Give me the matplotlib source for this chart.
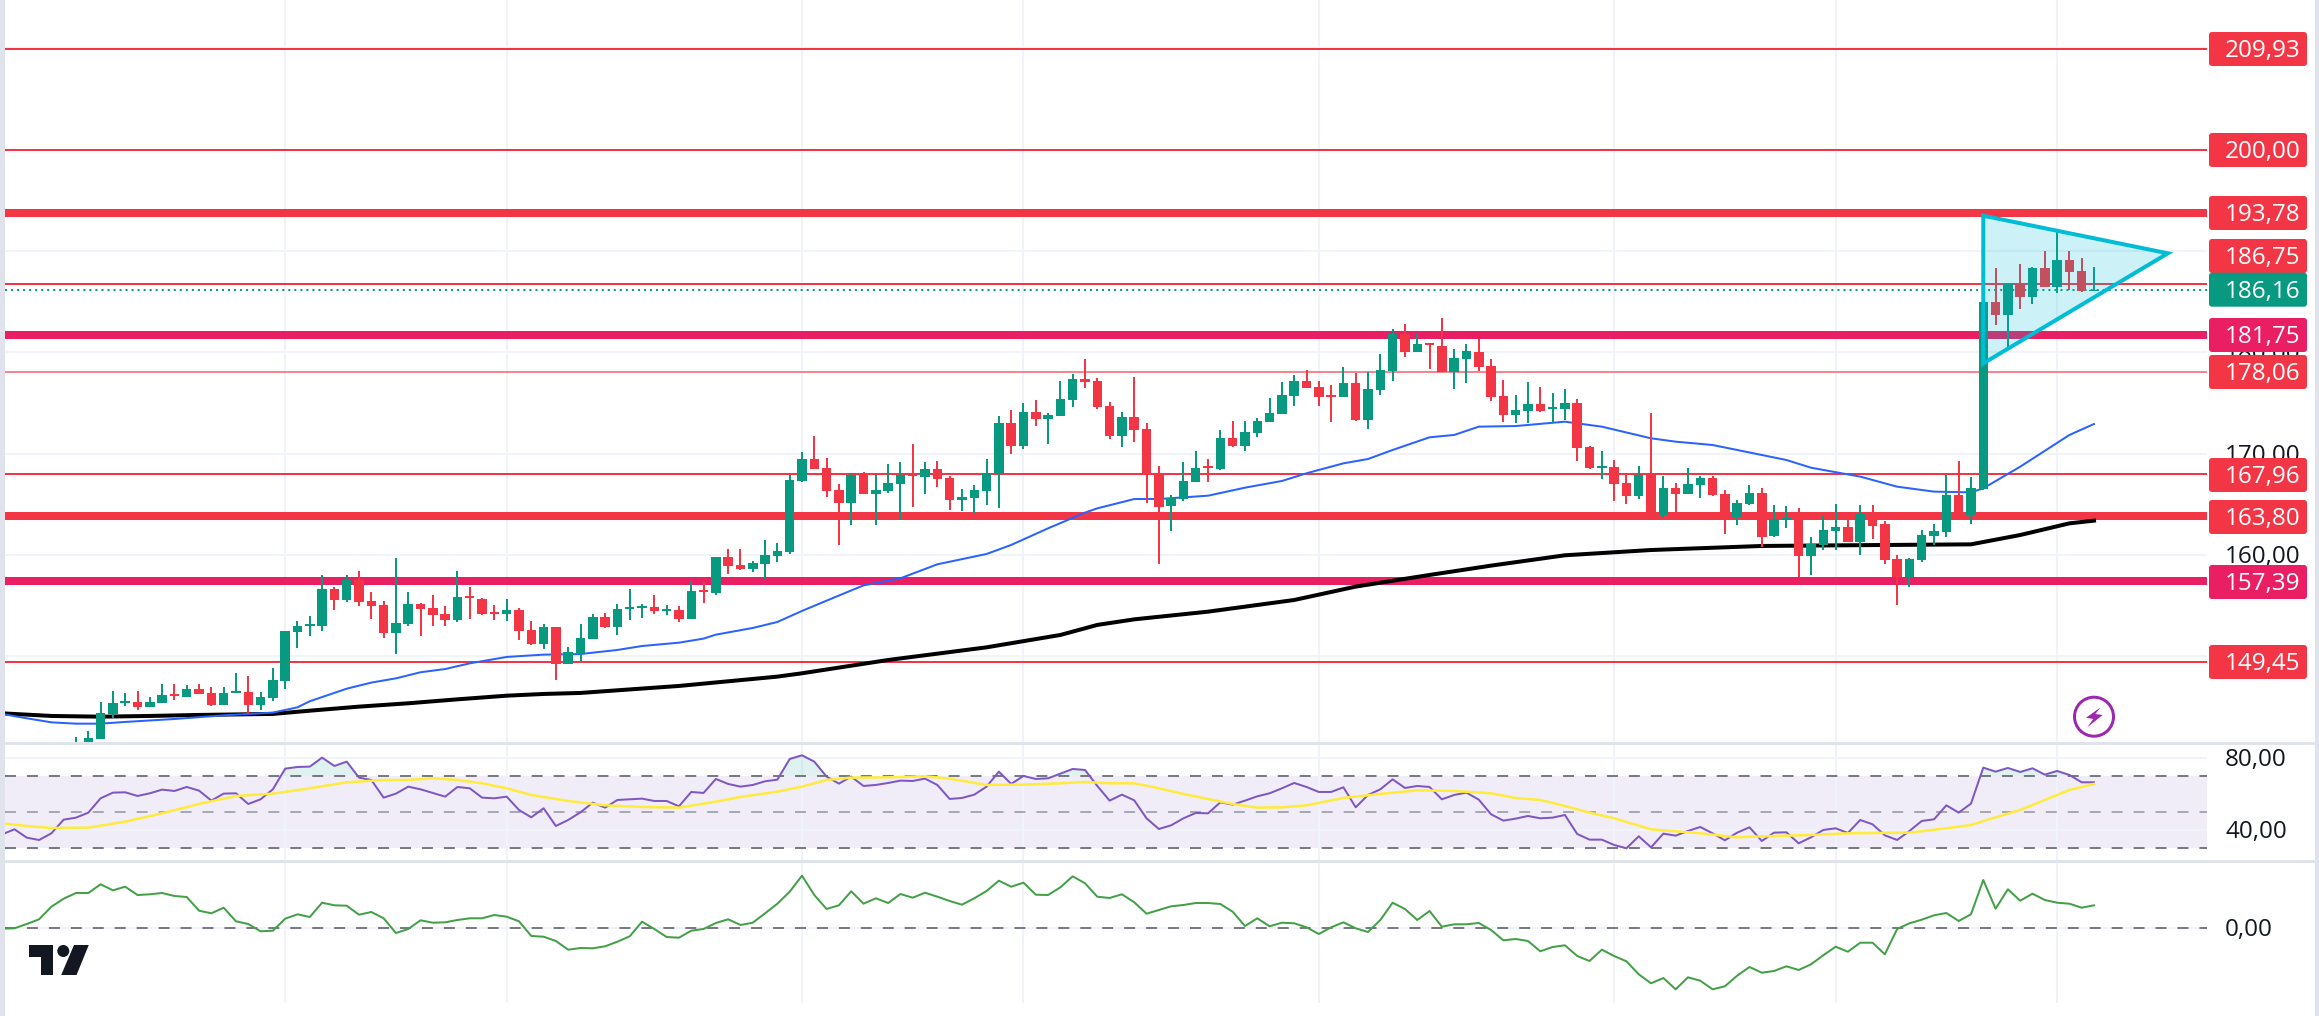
import numpy as np
import matplotlib
matplotlib.use('Agg')
import matplotlib.pyplot as plt
from matplotlib.patches import FancyBboxPatch, Polygon, Circle, Rectangle

W, H = 2319, 1016
px = 0.72  # one image pixel in points at dpi 100
plt.rcParams['font.family'] = ['Open Sans', 'DejaVu Sans']
plt.rcParams['lines.scale_dashes'] = False

opens = [
    140.11,140.44,141.85,144.32,145.43,145.50,145.01,145.40,146.29,145.99,
    146.78,146.39,145.20,146.39,146.49,145.20,145.89,147.57,152.40,153.00,
    153.00,156.65,155.56,157.53,155.46,155.07,152.31,153.19,155.17,154.77,
    154.18,153.59,155.96,155.66,154.38,154.18,154.57,152.60,151.22,152.90,
    149.25,150.33,151.71,153.88,152.90,154.67,154.77,154.87,154.51,154.57,
    153.69,156.55,156.25,159.80,159.01,158.62,159.11,159.90,160.30,167.30,
    169.47,168.58,166.41,165.13,167.89,166.02,166.31,167.00,167.99,167.69,
    168.48,167.60,165.43,165.62,166.31,167.99,173.02,170.75,174.11,173.42,
    173.71,175.29,177.36,177.16,174.70,171.74,173.61,172.43,167.89,164.83,
    165.52,167.20,168.78,168.48,171.54,170.75,172.03,173.12,173.91,175.68,
    177.16,176.57,175.78,175.59,176.97,173.32,176.28,178.15,181.80,180.02,
    180.91,180.62,178.05,179.33,180.02,178.64,175.68,173.81,174.20,174.89,
    174.40,174.40,174.99,170.65,168.58,168.68,167.10,165.82,167.89,163.95,
    166.61,166.02,166.90,167.60,166.02,163.75,165.03,166.12,161.87,163.45,
    163.55,159.90,160.99,162.37,162.76,161.28,164.04,163.06,159.61,157.83,
    159.51,161.87,162.27,165.92,163.95,166.51,184.96,183.67,186.73,185.45,
    188.31,186.44,189.10,188.01,186.04]
highs = [
    142.01,142.64,145.50,146.58,146.35,146.58,145.99,147.28,147.28,147.18,
    147.28,146.98,146.98,148.36,148.06,146.49,148.85,152.50,153.49,153.98,
    158.03,156.84,158.03,158.42,156.35,155.46,159.70,156.35,155.27,156.05,
    154.97,158.42,156.84,155.76,155.07,155.66,154.77,153.49,153.19,152.90,
    150.93,153.19,154.18,154.28,155.17,156.65,155.17,156.05,155.07,154.97,
    157.44,157.34,159.80,160.59,160.59,159.41,161.48,161.18,167.89,170.16,
    171.74,169.57,167.00,168.09,168.19,167.89,168.98,169.17,170.95,169.17,
    169.27,167.79,166.51,166.90,169.47,173.71,174.30,174.99,175.29,174.01,
    177.16,177.85,179.33,177.46,175.09,174.11,177.56,173.02,168.78,165.92,
    169.17,170.26,169.47,172.33,173.22,173.22,173.51,175.49,177.06,177.76,
    178.25,177.16,176.77,178.54,177.95,178.05,179.83,182.29,182.79,181.80,
    180.91,183.38,180.32,180.81,181.31,179.33,177.26,175.78,177.06,176.57,
    175.98,176.37,175.39,170.75,170.26,169.37,167.89,168.78,174.01,167.79,
    167.10,168.58,167.79,167.79,166.41,165.43,166.90,166.61,164.93,164.83,
    164.64,161.78,163.85,165.03,163.75,164.93,164.93,163.35,160.00,159.70,
    162.47,163.06,167.89,169.27,167.69,184.96,188.31,186.73,188.70,188.41,
    189.99,192.06,189.99,189.30,188.41]
lows = [
    139.45,139.94,141.85,143.92,145.11,144.74,145.01,145.40,145.70,145.99,
    146.29,145.11,145.20,146.39,144.41,144.71,145.60,146.78,150.83,152.01,
    152.50,154.57,155.36,154.97,153.69,151.81,150.23,153.00,152.01,153.00,
    153.00,153.39,153.69,154.08,153.59,153.49,151.62,151.12,150.73,147.67,
    149.25,149.54,151.71,152.80,152.11,153.59,153.79,154.18,154.08,153.39,
    153.69,155.27,156.05,158.13,158.52,158.32,157.63,159.31,160.10,167.20,
    168.48,165.72,160.99,162.96,166.02,162.96,166.12,163.55,164.73,166.02,
    166.71,164.44,164.34,164.14,164.93,164.64,169.96,170.46,172.72,170.95,
    173.71,174.60,176.47,174.40,171.44,170.65,171.15,165.13,159.11,162.37,
    165.33,167.20,167.20,168.38,170.65,170.26,171.64,173.12,173.91,174.70,
    176.47,174.70,173.12,175.59,173.22,172.43,175.78,177.16,179.53,180.02,
    178.35,178.05,176.37,176.97,178.15,175.19,173.12,173.02,173.02,174.11,
    173.02,173.32,169.27,168.48,167.50,165.33,165.03,165.52,163.95,163.65,
    164.04,166.02,165.62,165.82,162.07,162.96,164.93,160.79,161.78,162.66,
    157.83,158.03,160.49,160.49,161.28,160.00,161.58,159.11,155.07,156.84,
    159.31,160.99,161.78,163.95,163.06,166.41,182.69,180.22,184.27,184.76,
    186.44,185.84,186.14,185.94,186.04]
closes = [
    141.09,141.95,144.38,145.40,145.60,145.01,145.50,146.19,146.12,146.78,
    146.29,145.20,146.39,146.58,145.20,145.99,147.67,152.50,153.00,153.19,
    156.65,155.56,157.53,155.36,154.97,152.31,153.29,155.17,154.67,154.08,
    153.59,155.86,155.76,154.18,154.21,154.57,152.50,151.22,152.90,149.25,
    150.43,151.81,153.88,152.90,154.67,154.87,154.97,154.48,154.67,153.69,
    156.45,156.35,159.80,158.91,158.62,159.21,160.00,160.39,167.40,169.47,
    168.48,166.31,165.13,167.89,166.02,166.41,167.10,167.89,167.79,168.48,
    167.50,165.43,165.72,166.41,168.09,173.02,170.75,174.11,173.42,173.81,
    175.39,177.36,177.06,174.60,171.74,173.61,172.33,167.89,164.73,165.62,
    167.30,168.58,168.58,171.54,170.75,172.13,173.22,174.01,175.78,177.16,
    176.47,175.59,175.59,176.97,173.32,176.37,178.25,181.80,180.02,180.81,
    180.71,178.05,179.43,180.12,178.54,175.59,173.81,174.30,174.89,174.20,
    174.60,174.99,170.55,168.58,168.78,167.00,165.82,167.89,163.95,166.61,
    166.02,167.00,167.60,165.92,163.95,165.13,166.12,161.78,163.55,163.65,
    159.90,161.09,162.47,162.76,161.28,164.04,162.86,159.51,157.83,159.61,
    161.97,162.37,165.92,163.95,166.61,184.96,183.67,186.73,185.45,188.31,
    186.44,189.10,187.92,186.04,186.16]

# moving averages, read at some bars only
ma50_x = [-6,-4,-2,0,2,4,8,12,16,18,19,22,24,26,28,30,32,35,38,41,44,46,49,51,52,55,57,59,
          62,64,67,70,74,76,79,82,83,86,88,92,95,98,100,103,105,107,110,112,114,117,121,124,
          128,130,133,135,139,141,145,148,151,154,155,158,162,164]
ma50_y = [144.32,143.89,143.49,143.36,143.36,143.53,143.82,144.18,144.45,144.97,145.57,146.81,
          147.41,147.83,148.43,148.75,149.31,149.94,150.17,150.23,150.63,151.02,151.35,151.75,
          152.14,152.80,153.39,154.48,156.00,157.00,157.70,159.08,160.10,160.99,162.63,164.18,
          164.60,165.52,165.52,165.85,166.64,167.30,168.06,169.04,169.47,170.36,171.61,171.84,
          172.66,172.72,173.15,172.66,171.51,171.18,170.85,170.36,169.37,168.61,167.73,166.74,
          166.25,166.18,166.58,168.71,171.84,172.92]
ma200_x = [-6,-2,2,6,10,16,19,23,27,31,35,38,41,44,49,53,57,59,66,74,80,83,86,92,99,104,110,115,
           121,128,137,143,154,158,162,164]
ma200_y = [144.38,144.12,144.05,144.12,144.22,144.32,144.64,145.04,145.37,145.76,146.12,146.29,
           146.39,146.65,147.08,147.54,148.00,148.33,149.64,150.89,152.11,153.10,153.65,154.41,
           155.56,156.88,158.03,158.95,159.97,160.49,160.89,160.95,161.05,161.97,163.12,163.39]

# lower panes start 6 bars before the first candle
rsi = [
    37.59,40.37,35.74,34.44,38.15,45.74,
    46.85,49.63,57.59,60.74,60.93,58.89,60.37,62.41,61.67,63.89,
    61.85,56.30,60.19,60.37,54.44,57.04,62.59,74.07,75.00,75.19,
    80.19,75.56,77.96,69.07,67.78,57.96,60.19,64.07,62.59,60.56,
    58.52,63.89,63.15,57.96,57.59,58.52,51.11,47.04,52.04,42.22,
    45.56,49.81,55.19,52.41,56.67,57.04,57.41,56.11,56.11,53.15,
    61.11,60.56,68.33,65.56,64.07,65.00,67.04,67.96,79.44,81.48,
    77.96,69.63,65.74,69.63,64.44,65.00,66.11,67.41,67.22,68.52,
    65.00,57.22,57.78,59.63,64.07,72.41,65.56,70.00,68.33,68.70,
    71.30,73.89,73.33,64.44,56.30,59.63,56.48,46.48,40.56,42.59,
    46.48,49.44,49.26,55.37,54.07,56.30,58.70,60.37,63.15,66.11,
    63.89,61.11,61.11,63.70,52.59,59.44,62.59,68.15,63.33,64.44,
    63.89,57.04,59.44,60.74,56.85,48.70,45.19,46.30,47.78,46.48,
    46.85,48.33,37.78,34.63,34.63,31.67,29.81,36.48,30.37,37.96,
    36.85,39.44,41.67,38.15,34.26,38.52,41.48,33.89,38.52,38.70,
    32.59,35.93,40.00,40.93,38.33,45.56,43.15,37.04,34.44,39.44,
    45.00,45.93,53.70,49.63,54.63,74.63,72.41,74.44,72.22,74.26,
    70.74,72.78,70.56,66.48,66.48]
rsi_ma_x = [-6,-4,-2,1,4,7,10,13,16,19,22,25,27,29,31,33,35,37,40,43,46,49,52,54,57,59,61,63,66,
            69,71,74,77,80,82,84,86,88,90,92,94,96,98,100,103,106,109,112,115,117,119,121,123,
            125,128,132,135,138,141,144,149,152,154,156,158,160,162,164]
rsi_ma_y = [43.70,42.22,41.11,41.30,44.63,49.26,54.44,58.89,60.19,63.15,66.48,67.78,67.78,68.70,
            67.78,65.93,63.15,59.44,56.11,53.70,52.78,52.41,55.74,58.33,61.30,64.07,67.78,69.07,
            69.26,69.81,68.52,65.00,65.19,65.93,66.67,65.93,65.93,63.15,60.00,57.22,54.44,52.41,
            52.59,53.70,57.78,60.00,62.04,61.67,60.37,57.78,56.67,53.33,49.63,46.48,40.37,38.15,
            35.93,36.67,37.22,38.15,38.52,40.93,42.78,47.04,51.11,56.67,62.22,65.56]
momentum = [
    -0.07,-0.03,0.40,0.87,2.13,2.93,
    3.50,3.50,4.37,3.77,4.13,3.30,3.37,3.50,3.20,3.10,
    1.73,1.47,2.03,0.67,0.40,-0.33,-0.27,0.93,1.37,1.10,
    2.53,2.27,2.23,1.33,1.60,0.97,-0.50,-0.10,0.77,0.53,
    0.57,0.80,0.97,0.97,1.30,1.13,0.67,-0.80,-0.87,-1.30,
    -2.17,-2.00,-2.03,-1.83,-1.37,-0.83,0.63,-0.10,-0.90,-0.97,
    -0.27,-0.10,0.50,0.87,0.30,0.53,1.47,2.43,3.63,5.23,
    3.30,1.90,2.27,3.67,2.43,2.97,2.50,3.40,3.03,3.53,
    3.13,2.70,2.33,2.97,3.70,4.73,4.13,4.53,3.33,3.30,
    4.07,5.17,4.47,3.13,3.00,3.37,2.57,1.43,1.80,2.17,
    2.30,2.50,2.50,2.40,1.63,0.20,0.97,0.17,0.53,0.47,
    0.07,-0.60,0.07,0.57,-0.03,-0.40,0.80,2.53,1.90,0.80,
    1.70,0.13,0.37,0.37,0.50,-0.20,-1.23,-1.10,-1.30,-2.33,
    -1.90,-1.73,-2.80,-3.30,-2.17,-2.80,-3.33,-4.63,-5.53,-5.00,
    -6.13,-4.93,-5.27,-6.13,-5.83,-4.77,-3.90,-4.47,-4.30,-3.83,
    -4.20,-3.63,-2.73,-1.87,-2.37,-1.47,-1.47,-2.63,-0.10,0.47,
    0.83,1.27,1.50,0.70,1.37,4.80,1.93,3.87,2.73,3.43,
    2.80,2.53,2.43,2.03,2.27]

levels_thin = [209.93, 200.00, 186.75, 167.96, 149.45]
levels_red = [193.78, 163.80]
levels_pink = [181.75, 157.39]
level_faint = 178.06
last_price = 186.16
triangle_x = [155, 170, 155]
triangle_y = [193.47, 189.76, 178.90]

grid_bars = [17, 35, 59, 77, 101, 125, 143, 161]
price_grid = [150, 160, 170, 180, 190, 200, 210]

axis_labels = ['180,00', '170,00', '160,00', '80,00', '40,00', '0,00']
axis_label_y = [351.7, 454, 555, 758, 830, 928]
tag_labels = ['209,93', '200,00', '193,78', '186,75', '186,16', '181,75', '178,06', '167,96', '163,80', '157,39', '149,45']
tag_y = [49, 150, 213, 256, 289.7, 335, 372, 475, 517, 582, 662]

RED = '#F23645'
PINK = '#E91E63'
GREEN = '#089981'
tag_colors = [RED, RED, RED, RED, GREEN, PINK, RED, RED, RED, PINK, RED]

bar_x = np.arange(len(closes))
low_x = np.arange(-6, len(closes))
xlim = ((5 - 76) / 12.305, (2207 - 76) / 12.305)

fig = plt.figure(figsize=(W / 100, H / 100), dpi=100, facecolor='white')


def add_pane(top, bottom, ylim, yticks):
    ax = fig.add_axes([5 / W, 1 - bottom / H, 2202 / W, (bottom - top) / H])
    ax.set_xlim(xlim)
    ax.set_ylim(ylim)
    ax.set_xticks(grid_bars)
    ax.set_yticks(yticks)
    ax.grid(True, color='#F0F3FA', lw=2 * px)
    ax.set_axisbelow(True)
    ax.tick_params(length=0, labelbottom=False, labelleft=False)
    for s in ax.spines.values():
        s.set_visible(False)
    return ax


ax = add_pane(0, 741.5, (141.6, 214.75), price_grid)
ax2 = add_pane(745, 859.5, (23.6, 87.2), [40, 80])
ax3 = add_pane(862.5, 1003, (-7.5, 6.55), [0])

# price pane
for v in levels_thin:
    ax.axhline(v, color=RED, lw=2 * px, zorder=1)
ax.axhline(level_faint, color='#F7858F', lw=2 * px, zorder=1)
for v in levels_red:
    ax.axhline(v, color=RED, lw=8 * px, zorder=1)
for v in levels_pink:
    ax.axhline(v, color=PINK, lw=8 * px, zorder=1)
ax.plot(ma200_x, ma200_y, color='black', lw=4 * px, zorder=2)
ax.plot(ma50_x, ma50_y, color='#2962FF', lw=2 * px, zorder=2)
ax.axhline(last_price, color=GREEN, lw=2 * px, ls=(0, (1.44, 2.9)), zorder=2)

cols = [GREEN if c >= o else RED for o, c in zip(opens, closes)]
ax.vlines(bar_x, lows, highs, colors=cols, lw=2 * px, zorder=3)
bottoms = np.minimum(opens, closes)
heights = np.abs(np.array(closes) - np.array(opens))
ax.bar(bar_x, heights, bottom=bottoms, width=0.77, color=cols, lw=0, zorder=3)

ax.add_patch(Polygon(list(zip(triangle_x, triangle_y)), closed=True, fc='#00BCD4', alpha=0.2, ec='none', zorder=4))
ax.add_patch(Polygon(list(zip(triangle_x, triangle_y)), closed=True, fc='none', ec='#00BCD4', lw=4 * px, zorder=5))

# rsi pane
ax2.axhspan(30, 70, color='#7E57C2', alpha=0.1, lw=0, zorder=0)
ax2.axhline(70, color='#787B86', lw=2 * px, ls=(0, (7.9, 7.9)), zorder=1)
ax2.axhline(50, color='#787B86', alpha=0.6, lw=2 * px, ls=(0, (7.9, 7.9)), zorder=1)
ax2.axhline(30, color='#787B86', lw=2 * px, ls=(0, (7.9, 7.9)), zorder=1)
ax2.fill_between(low_x, 70, rsi, where=np.array(rsi) > 70, interpolate=True, color=GREEN, alpha=0.12, lw=0, zorder=1)
ax2.plot(rsi_ma_x, rsi_ma_y, color='#FFEB3B', lw=2.5 * px, zorder=3)
ax2.plot(low_x, rsi, color='#7E57C2', lw=2 * px, zorder=2)

# lower line
ax3.axhline(0, color='#787B86', lw=2 * px, ls=(0, (7.9, 7.9)), zorder=1)
ax3.plot(low_x, momentum, color='#43A047', lw=2 * px, zorder=2)

# page furniture drawn in image pixels
top = fig.add_axes([0, 0, 1, 1], zorder=10)
top.set_xlim(0, W)
top.set_ylim(H, 0)
top.axis('off')
top.patch.set_alpha(0)
top.add_patch(Rectangle((0, 0), 5, H, fc='#E0E3EB', ec='none'))
top.add_patch(Rectangle((2315, 0), 4, H, fc='#E0E3EB', ec='none'))
top.add_patch(Rectangle((5, 742), 2310, 2.5, fc='#E0E3EB', ec='none'))
top.add_patch(Rectangle((5, 860), 2310, 2.5, fc='#E0E3EB', ec='none'))

for txt, y in zip(axis_labels, axis_label_y):
    top.text(2225, y + 2, txt, color='#131722', fontsize=17.5, va='center', ha='left', zorder=2)
for txt, y, c in zip(tag_labels, tag_y, tag_colors):
    top.add_patch(FancyBboxPatch((2211, y - 15), 94, 30, boxstyle='round,pad=2,rounding_size=3', fc=c, ec='none', zorder=3))
    top.text(2225, y + 2, txt, color='white', fontsize=17.5, va='center', ha='left', zorder=4)

# lightning icon
top.add_patch(Circle((2094, 716.7), 19.5, fc='white', ec='#9C27B0', lw=3 * px))
top.add_patch(Polygon([(2100.7, 707.3), (2086, 717.7), (2093.3, 719), (2087.3, 727.3), (2102.7, 715), (2095.3, 714)],
                      closed=True, fc='#9C27B0', ec='none'))

# tradingview logo
top.add_patch(Polygon([(29, 945), (53, 945), (53, 975), (40.8, 975), (40.8, 956.7), (29, 956.7)], closed=True, fc='#131722', ec='none'))
top.add_patch(Circle((63.3, 951), 6, fc='#131722', ec='none'))
top.add_patch(Polygon([(74, 945), (88.8, 945), (76.5, 975), (61.2, 975)], closed=True, fc='#131722', ec='none'))

fig.savefig('out.png', dpi=100)
